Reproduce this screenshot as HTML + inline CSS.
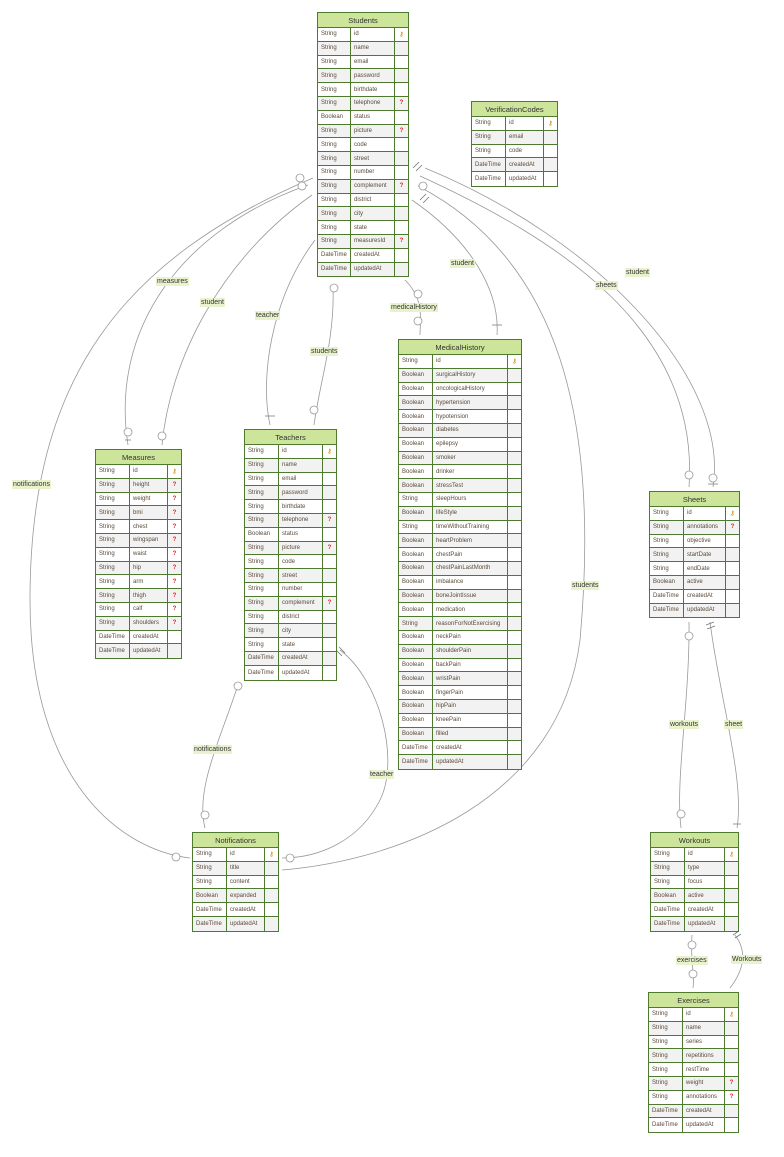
<!DOCTYPE html>
<html><head><meta charset="utf-8"><style>
body{margin:0;width:784px;height:1157px;background:#fff;position:relative;overflow:hidden;font-family:"Liberation Sans",sans-serif}
.t{position:absolute;border:1px solid #4d7a2e;background:#fff;box-sizing:border-box}
.h{background:#cde49b;border-bottom:1px solid #4d7a2e;text-align:center;font-size:7.5px;color:#333;display:flex;align-items:center;justify-content:center;height:14px}
.r{display:flex;border-bottom:1px solid #4d7a2e;font-size:6px;color:#5a4a3a;box-sizing:border-box;height:13.8px;background:#fff}
.r:nth-child(even){background:#f2f2f2}
.r:last-child{border-bottom:none}
.r div{display:flex;align-items:center;padding-left:3px;box-sizing:border-box;overflow:hidden;white-space:nowrap}
.r div:nth-child(1){border-right:1px solid #4d7a2e}
.r div:nth-child(2){border-right:1px solid #4d7a2e}
.r div:nth-child(3){justify-content:center;padding:0;font-weight:bold}
.k{color:#e0a020}.q{color:#e02020}
.l{position:absolute;font-size:7px;background:#e8f2cc;color:#333;padding:0 1px;line-height:9px}
svg{position:absolute;left:0;top:0}
</style></head><body>
<svg width="784" height="1157" fill="none" stroke="#999" stroke-width="0.8">
<path d="M313 178 C120 260 30 380 30 600 C30 780 120 850 190 858"/>
<path d="M308 185 C180 230 110 330 128 445"/>
<path d="M312 195 C220 260 170 360 162 445"/>
<path d="M315 240 C270 300 260 380 270 425"/>
<path d="M333 285 C335 340 320 380 314 425"/>
<path d="M405 280 C425 300 420 320 420 335"/>
<path d="M412 200 C470 240 500 290 497 335"/>
<path d="M420 176 C560 240 700 330 689 487"/>
<path d="M425 168 C600 240 730 380 713 487"/>
<path d="M418 186 C560 260 600 420 580 640 C560 800 400 860 282 870"/>
<path d="M238 685 C220 740 195 790 205 828"/>
<path d="M340 650 C380 680 400 760 380 800 C360 840 320 858 282 858"/>
<path d="M689 622 C690 700 675 780 681 828"/>
<path d="M710 622 C720 700 745 780 737 828"/>
<path d="M692 935 C690 960 695 975 693 988"/>
<path d="M735 935 C750 955 740 975 730 988"/>
<g fill="#fff">
<circle cx="300" cy="178" r="4"/><circle cx="302" cy="186" r="4"/><circle cx="128" cy="432" r="4"/><circle cx="162" cy="436" r="4"/>
<circle cx="334" cy="288" r="4"/><circle cx="314" cy="410" r="4"/><circle cx="418" cy="294" r="4"/><circle cx="418" cy="321" r="4"/>
<circle cx="423" cy="186" r="4"/><circle cx="689" cy="475" r="4"/><circle cx="238" cy="686" r="4"/><circle cx="205" cy="815" r="4"/>
<circle cx="176" cy="857" r="4"/><circle cx="290" cy="858" r="4"/><circle cx="689" cy="636" r="4"/><circle cx="681" cy="814" r="4"/>
<circle cx="692" cy="945" r="4"/><circle cx="693" cy="974" r="4"/><circle cx="713" cy="478" r="4"/>
</g>
<g stroke="#777">
<path d="M413 168 l6 -6 M416 171 l6 -6 M420 200 l6 -6 M423 203 l6 -6 M336 650 l6 6 M339 647 l6 6 M706 625 l8 -3 M707 629 l8 -3 M733 935 l6 -4 M735 938 l6 -4 M708 484 l10 0 M265 416 l10 0 M492 325 l10 0 M733 824 l8 0 M125 440 l6 0"/>
</g>
</svg>
<div class="l" style="left:156px;top:277px">measures</div>
<div class="l" style="left:200px;top:298px">student</div>
<div class="l" style="left:255px;top:311px">teacher</div>
<div class="l" style="left:310px;top:347px">students</div>
<div class="l" style="left:390px;top:303px">medicalHistory</div>
<div class="l" style="left:450px;top:259px">student</div>
<div class="l" style="left:595px;top:281px">sheets</div>
<div class="l" style="left:625px;top:268px">student</div>
<div class="l" style="left:12px;top:480px">notifications</div>
<div class="l" style="left:571px;top:581px">students</div>
<div class="l" style="left:193px;top:745px">notifications</div>
<div class="l" style="left:369px;top:770px">teacher</div>
<div class="l" style="left:669px;top:720px">workouts</div>
<div class="l" style="left:724px;top:720px">sheet</div>
<div class="l" style="left:676px;top:956px">exercises</div>
<div class="l" style="left:731px;top:955px">Workouts</div>

<div class="t" style="left:317px;top:12px;width:92px">
<div class="h">Students</div><div>
<div class="r"><div style="width:33px">String</div><div style="width:44px">id</div><div style="width:13px" class="k">⚷</div></div>
<div class="r"><div style="width:33px">String</div><div style="width:44px">name</div><div style="width:13px"></div></div>
<div class="r"><div style="width:33px">String</div><div style="width:44px">email</div><div style="width:13px"></div></div>
<div class="r"><div style="width:33px">String</div><div style="width:44px">password</div><div style="width:13px"></div></div>
<div class="r"><div style="width:33px">String</div><div style="width:44px">birthdate</div><div style="width:13px"></div></div>
<div class="r"><div style="width:33px">String</div><div style="width:44px">telephone</div><div style="width:13px" class="q">?</div></div>
<div class="r"><div style="width:33px">Boolean</div><div style="width:44px">status</div><div style="width:13px"></div></div>
<div class="r"><div style="width:33px">String</div><div style="width:44px">picture</div><div style="width:13px" class="q">?</div></div>
<div class="r"><div style="width:33px">String</div><div style="width:44px">code</div><div style="width:13px"></div></div>
<div class="r"><div style="width:33px">String</div><div style="width:44px">street</div><div style="width:13px"></div></div>
<div class="r"><div style="width:33px">String</div><div style="width:44px">number</div><div style="width:13px"></div></div>
<div class="r"><div style="width:33px">String</div><div style="width:44px">complement</div><div style="width:13px" class="q">?</div></div>
<div class="r"><div style="width:33px">String</div><div style="width:44px">district</div><div style="width:13px"></div></div>
<div class="r"><div style="width:33px">String</div><div style="width:44px">city</div><div style="width:13px"></div></div>
<div class="r"><div style="width:33px">String</div><div style="width:44px">state</div><div style="width:13px"></div></div>
<div class="r"><div style="width:33px">String</div><div style="width:44px">measuresId</div><div style="width:13px" class="q">?</div></div>
<div class="r"><div style="width:33px">DateTime</div><div style="width:44px">createdAt</div><div style="width:13px"></div></div>
<div class="r"><div style="width:33px">DateTime</div><div style="width:44px">updatedAt</div><div style="width:13px"></div></div>
</div></div>

<div class="t" style="left:471px;top:101px;width:87px">
<div class="h">VerificationCodes</div><div>
<div class="r"><div style="width:34px">String</div><div style="width:38px">id</div><div style="width:13px" class="k">⚷</div></div>
<div class="r"><div style="width:34px">String</div><div style="width:38px">email</div><div style="width:13px"></div></div>
<div class="r"><div style="width:34px">String</div><div style="width:38px">code</div><div style="width:13px"></div></div>
<div class="r"><div style="width:34px">DateTime</div><div style="width:38px">createdAt</div><div style="width:13px"></div></div>
<div class="r"><div style="width:34px">DateTime</div><div style="width:38px">updatedAt</div><div style="width:13px"></div></div>
</div></div>

<div class="t" style="left:398px;top:339px;width:124px">
<div class="h">MedicalHistory</div><div>
<div class="r"><div style="width:34px">String</div><div style="width:75px">id</div><div style="width:13px" class="k">⚷</div></div>
<div class="r"><div style="width:34px">Boolean</div><div style="width:75px">surgicalHistory</div><div style="width:13px"></div></div>
<div class="r"><div style="width:34px">Boolean</div><div style="width:75px">oncologicalHistory</div><div style="width:13px"></div></div>
<div class="r"><div style="width:34px">Boolean</div><div style="width:75px">hypertension</div><div style="width:13px"></div></div>
<div class="r"><div style="width:34px">Boolean</div><div style="width:75px">hypotension</div><div style="width:13px"></div></div>
<div class="r"><div style="width:34px">Boolean</div><div style="width:75px">diabetes</div><div style="width:13px"></div></div>
<div class="r"><div style="width:34px">Boolean</div><div style="width:75px">epilepsy</div><div style="width:13px"></div></div>
<div class="r"><div style="width:34px">Boolean</div><div style="width:75px">smoker</div><div style="width:13px"></div></div>
<div class="r"><div style="width:34px">Boolean</div><div style="width:75px">drinker</div><div style="width:13px"></div></div>
<div class="r"><div style="width:34px">Boolean</div><div style="width:75px">stressTest</div><div style="width:13px"></div></div>
<div class="r"><div style="width:34px">String</div><div style="width:75px">sleepHours</div><div style="width:13px"></div></div>
<div class="r"><div style="width:34px">Boolean</div><div style="width:75px">lifeStyle</div><div style="width:13px"></div></div>
<div class="r"><div style="width:34px">String</div><div style="width:75px">timeWithoutTraining</div><div style="width:13px"></div></div>
<div class="r"><div style="width:34px">Boolean</div><div style="width:75px">heartProblem</div><div style="width:13px"></div></div>
<div class="r"><div style="width:34px">Boolean</div><div style="width:75px">chestPain</div><div style="width:13px"></div></div>
<div class="r"><div style="width:34px">Boolean</div><div style="width:75px">chestPainLastMonth</div><div style="width:13px"></div></div>
<div class="r"><div style="width:34px">Boolean</div><div style="width:75px">imbalance</div><div style="width:13px"></div></div>
<div class="r"><div style="width:34px">Boolean</div><div style="width:75px">boneJointIssue</div><div style="width:13px"></div></div>
<div class="r"><div style="width:34px">Boolean</div><div style="width:75px">medication</div><div style="width:13px"></div></div>
<div class="r"><div style="width:34px">String</div><div style="width:75px">reasonForNotExercising</div><div style="width:13px"></div></div>
<div class="r"><div style="width:34px">Boolean</div><div style="width:75px">neckPain</div><div style="width:13px"></div></div>
<div class="r"><div style="width:34px">Boolean</div><div style="width:75px">shoulderPain</div><div style="width:13px"></div></div>
<div class="r"><div style="width:34px">Boolean</div><div style="width:75px">backPain</div><div style="width:13px"></div></div>
<div class="r"><div style="width:34px">Boolean</div><div style="width:75px">wristPain</div><div style="width:13px"></div></div>
<div class="r"><div style="width:34px">Boolean</div><div style="width:75px">fingerPain</div><div style="width:13px"></div></div>
<div class="r"><div style="width:34px">Boolean</div><div style="width:75px">hipPain</div><div style="width:13px"></div></div>
<div class="r"><div style="width:34px">Boolean</div><div style="width:75px">kneePain</div><div style="width:13px"></div></div>
<div class="r"><div style="width:34px">Boolean</div><div style="width:75px">filled</div><div style="width:13px"></div></div>
<div class="r"><div style="width:34px">DateTime</div><div style="width:75px">createdAt</div><div style="width:13px"></div></div>
<div class="r"><div style="width:34px">DateTime</div><div style="width:75px">updatedAt</div><div style="width:13px"></div></div>
</div></div>

<div class="t" style="left:95px;top:449px;width:87px">
<div class="h">Measures</div><div>
<div class="r"><div style="width:34px">String</div><div style="width:38px">id</div><div style="width:13px" class="k">⚷</div></div>
<div class="r"><div style="width:34px">String</div><div style="width:38px">height</div><div style="width:13px" class="q">?</div></div>
<div class="r"><div style="width:34px">String</div><div style="width:38px">weight</div><div style="width:13px" class="q">?</div></div>
<div class="r"><div style="width:34px">String</div><div style="width:38px">bmi</div><div style="width:13px" class="q">?</div></div>
<div class="r"><div style="width:34px">String</div><div style="width:38px">chest</div><div style="width:13px" class="q">?</div></div>
<div class="r"><div style="width:34px">String</div><div style="width:38px">wingspan</div><div style="width:13px" class="q">?</div></div>
<div class="r"><div style="width:34px">String</div><div style="width:38px">waist</div><div style="width:13px" class="q">?</div></div>
<div class="r"><div style="width:34px">String</div><div style="width:38px">hip</div><div style="width:13px" class="q">?</div></div>
<div class="r"><div style="width:34px">String</div><div style="width:38px">arm</div><div style="width:13px" class="q">?</div></div>
<div class="r"><div style="width:34px">String</div><div style="width:38px">thigh</div><div style="width:13px" class="q">?</div></div>
<div class="r"><div style="width:34px">String</div><div style="width:38px">calf</div><div style="width:13px" class="q">?</div></div>
<div class="r"><div style="width:34px">String</div><div style="width:38px">shoulders</div><div style="width:13px" class="q">?</div></div>
<div class="r"><div style="width:34px">DateTime</div><div style="width:38px">createdAt</div><div style="width:13px"></div></div>
<div class="r"><div style="width:34px">DateTime</div><div style="width:38px">updatedAt</div><div style="width:13px"></div></div>
</div></div>

<div class="t" style="left:244px;top:429px;width:93px">
<div class="h">Teachers</div><div>
<div class="r"><div style="width:34px">String</div><div style="width:44px">id</div><div style="width:13px" class="k">⚷</div></div>
<div class="r"><div style="width:34px">String</div><div style="width:44px">name</div><div style="width:13px"></div></div>
<div class="r"><div style="width:34px">String</div><div style="width:44px">email</div><div style="width:13px"></div></div>
<div class="r"><div style="width:34px">String</div><div style="width:44px">password</div><div style="width:13px"></div></div>
<div class="r"><div style="width:34px">String</div><div style="width:44px">birthdate</div><div style="width:13px"></div></div>
<div class="r"><div style="width:34px">String</div><div style="width:44px">telephone</div><div style="width:13px" class="q">?</div></div>
<div class="r"><div style="width:34px">Boolean</div><div style="width:44px">status</div><div style="width:13px"></div></div>
<div class="r"><div style="width:34px">String</div><div style="width:44px">picture</div><div style="width:13px" class="q">?</div></div>
<div class="r"><div style="width:34px">String</div><div style="width:44px">code</div><div style="width:13px"></div></div>
<div class="r"><div style="width:34px">String</div><div style="width:44px">street</div><div style="width:13px"></div></div>
<div class="r"><div style="width:34px">String</div><div style="width:44px">number</div><div style="width:13px"></div></div>
<div class="r"><div style="width:34px">String</div><div style="width:44px">complement</div><div style="width:13px" class="q">?</div></div>
<div class="r"><div style="width:34px">String</div><div style="width:44px">district</div><div style="width:13px"></div></div>
<div class="r"><div style="width:34px">String</div><div style="width:44px">city</div><div style="width:13px"></div></div>
<div class="r"><div style="width:34px">String</div><div style="width:44px">state</div><div style="width:13px"></div></div>
<div class="r"><div style="width:34px">DateTime</div><div style="width:44px">createdAt</div><div style="width:13px"></div></div>
<div class="r"><div style="width:34px">DateTime</div><div style="width:44px">updatedAt</div><div style="width:13px"></div></div>
</div></div>

<div class="t" style="left:649px;top:491px;width:91px">
<div class="h">Sheets</div><div>
<div class="r"><div style="width:34px">String</div><div style="width:42px">id</div><div style="width:13px" class="k">⚷</div></div>
<div class="r"><div style="width:34px">String</div><div style="width:42px">annotations</div><div style="width:13px" class="q">?</div></div>
<div class="r"><div style="width:34px">String</div><div style="width:42px">objective</div><div style="width:13px"></div></div>
<div class="r"><div style="width:34px">String</div><div style="width:42px">startDate</div><div style="width:13px"></div></div>
<div class="r"><div style="width:34px">String</div><div style="width:42px">endDate</div><div style="width:13px"></div></div>
<div class="r"><div style="width:34px">Boolean</div><div style="width:42px">active</div><div style="width:13px"></div></div>
<div class="r"><div style="width:34px">DateTime</div><div style="width:42px">createdAt</div><div style="width:13px"></div></div>
<div class="r"><div style="width:34px">DateTime</div><div style="width:42px">updatedAt</div><div style="width:13px"></div></div>
</div></div>

<div class="t" style="left:192px;top:832px;width:87px">
<div class="h">Notifications</div><div>
<div class="r"><div style="width:34px">String</div><div style="width:38px">id</div><div style="width:13px" class="k">⚷</div></div>
<div class="r"><div style="width:34px">String</div><div style="width:38px">title</div><div style="width:13px"></div></div>
<div class="r"><div style="width:34px">String</div><div style="width:38px">content</div><div style="width:13px"></div></div>
<div class="r"><div style="width:34px">Boolean</div><div style="width:38px">expanded</div><div style="width:13px"></div></div>
<div class="r"><div style="width:34px">DateTime</div><div style="width:38px">createdAt</div><div style="width:13px"></div></div>
<div class="r"><div style="width:34px">DateTime</div><div style="width:38px">updatedAt</div><div style="width:13px"></div></div>
</div></div>

<div class="t" style="left:650px;top:832px;width:89px">
<div class="h">Workouts</div><div>
<div class="r"><div style="width:34px">String</div><div style="width:40px">id</div><div style="width:13px" class="k">⚷</div></div>
<div class="r"><div style="width:34px">String</div><div style="width:40px">type</div><div style="width:13px"></div></div>
<div class="r"><div style="width:34px">String</div><div style="width:40px">focus</div><div style="width:13px"></div></div>
<div class="r"><div style="width:34px">Boolean</div><div style="width:40px">active</div><div style="width:13px"></div></div>
<div class="r"><div style="width:34px">DateTime</div><div style="width:40px">createdAt</div><div style="width:13px"></div></div>
<div class="r"><div style="width:34px">DateTime</div><div style="width:40px">updatedAt</div><div style="width:13px"></div></div>
</div></div>

<div class="t" style="left:648px;top:992px;width:91px">
<div class="h">Exercises</div><div>
<div class="r"><div style="width:34px">String</div><div style="width:42px">id</div><div style="width:13px" class="k">⚷</div></div>
<div class="r"><div style="width:34px">String</div><div style="width:42px">name</div><div style="width:13px"></div></div>
<div class="r"><div style="width:34px">String</div><div style="width:42px">series</div><div style="width:13px"></div></div>
<div class="r"><div style="width:34px">String</div><div style="width:42px">repetitions</div><div style="width:13px"></div></div>
<div class="r"><div style="width:34px">String</div><div style="width:42px">restTime</div><div style="width:13px"></div></div>
<div class="r"><div style="width:34px">String</div><div style="width:42px">weight</div><div style="width:13px" class="q">?</div></div>
<div class="r"><div style="width:34px">String</div><div style="width:42px">annotations</div><div style="width:13px" class="q">?</div></div>
<div class="r"><div style="width:34px">DateTime</div><div style="width:42px">createdAt</div><div style="width:13px"></div></div>
<div class="r"><div style="width:34px">DateTime</div><div style="width:42px">updatedAt</div><div style="width:13px"></div></div>
</div></div>
</body></html>
